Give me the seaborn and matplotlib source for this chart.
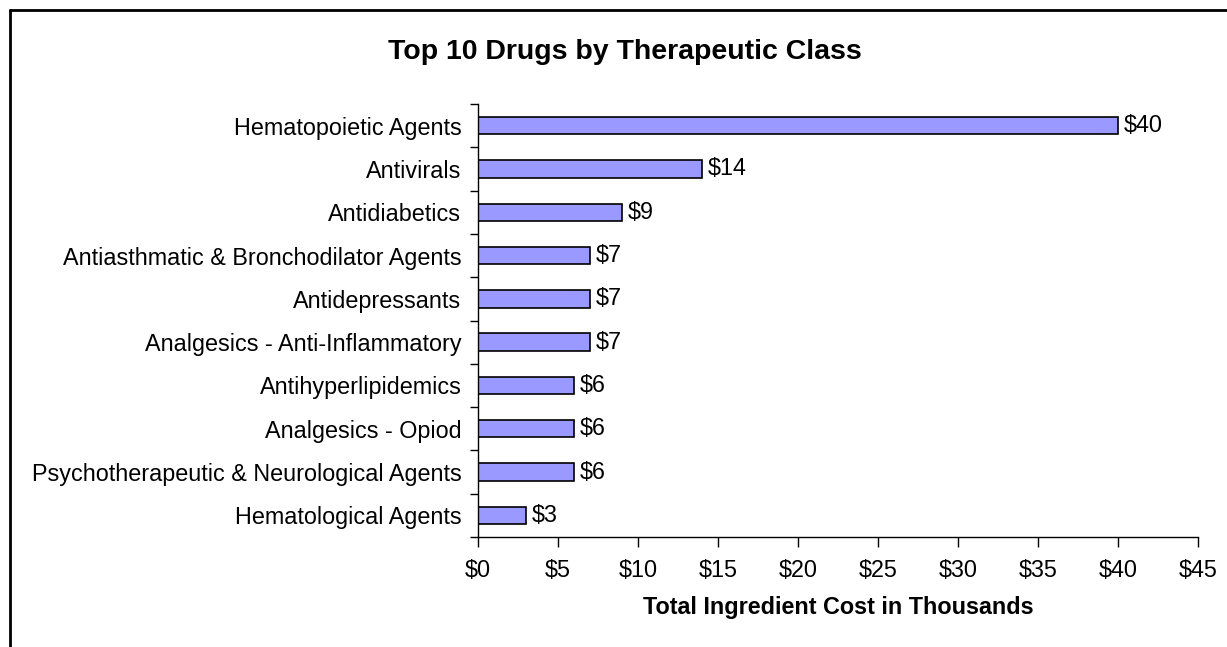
import matplotlib
matplotlib.use("Agg")
import matplotlib.pyplot as plt
import seaborn as sns
import pandas as pd
import numpy as np
from matplotlib.lines import Line2D

categories = ["Hematopoietic Agents", "Antivirals", "Antidiabetics",
              "Antiasthmatic & Bronchodilator Agents", "Antidepressants",
              "Analgesics - Anti-Inflammatory", "Antihyperlipidemics",
              "Analgesics - Opiod", "Psychotherapeutic & Neurological Agents",
              "Hematological Agents"]
values = [40, 14, 9, 7, 7, 7, 6, 6, 6, 3]
xticks = [0, 5, 10, 15, 20, 25, 30, 35, 40, 45]

sns.set_style("white")
plt.rcParams['font.family'] = ['Liberation Sans', 'DejaVu Sans']
plt.rcParams['text.color'] = 'black'
plt.rcParams['xtick.color'] = 'black'
plt.rcParams['ytick.color'] = 'black'
plt.rcParams['axes.labelcolor'] = 'black'

FS = 16.8

df = pd.DataFrame({"cat": categories, "val": values})

fig = plt.figure(figsize=(12.27, 6.47), dpi=100)
ax = fig.add_axes([478/1227, 1-537/647, (1198-478)/1227, (537-104)/647])

sns.barplot(data=df, x="val", y="cat", order=categories, color="#9999FF",
            edgecolor="black", linewidth=1.2, width=0.4, saturation=1, ax=ax)

ax.set_xlim(0, 45)
ax.set_ylim(9.5, -0.5)
ax.set_xticks(xticks)
ax.set_xticklabels([f"${t}" for t in xticks], fontsize=FS)
ax.set_yticks(range(len(categories)))
ax.set_yticklabels(categories, fontsize=FS)
ax.tick_params(axis='y', which='major', length=0, pad=12)
ax.set_yticks(np.arange(-0.5, 10, 1), minor=True)
ax.tick_params(axis='y', which='minor', length=6, width=1, color='black', direction='out', left=True)
ax.tick_params(axis='x', which='major', length=7, width=1, color='black', direction='out', bottom=True, pad=9)

for s in ['top', 'right']:
    ax.spines[s].set_visible(False)
for s in ['left', 'bottom']:
    ax.spines[s].set_visible(True)
    ax.spines[s].set_color('black')
    ax.spines[s].set_linewidth(1)

for i, v in enumerate(values):
    ax.text(v + 0.35, i, f"${v}", va='center', ha='left', fontsize=FS)

ax.set_xlabel("Total Ingredient Cost in Thousands", fontsize=FS, fontweight='bold', labelpad=10)
ax.set_ylabel("")

fig.text(625/1227, 1-52/647, "Top 10 Drugs by Therapeutic Class", fontsize=20.5,
         fontweight='bold', ha='center', va='center')

fig.add_artist(Line2D([10/1227, 10/1227], [0, 1-10/647], transform=fig.transFigure,
                      color='black', linewidth=2))
fig.add_artist(Line2D([10/1227, 1], [1-10/647, 1-10/647], transform=fig.transFigure,
                      color='black', linewidth=2))

fig.savefig("out.png", dpi=100)
